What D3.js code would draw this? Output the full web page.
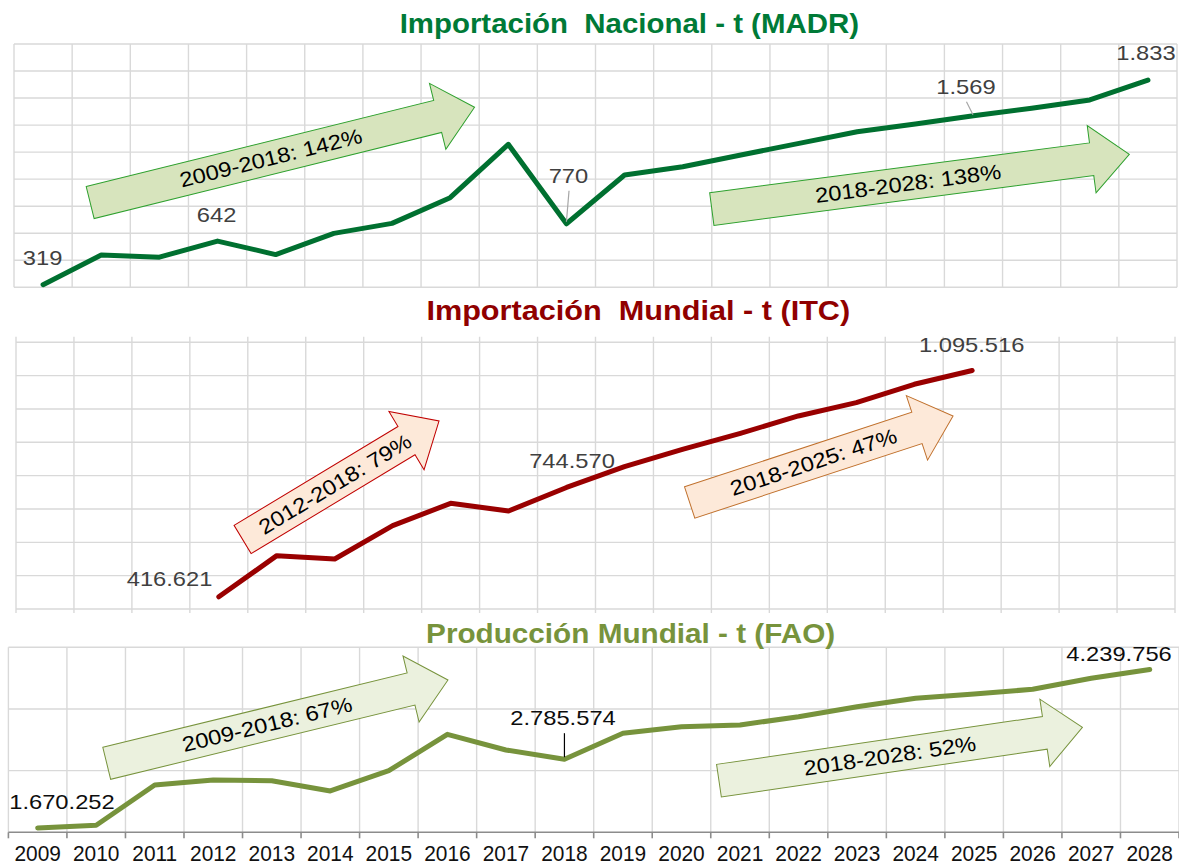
<!DOCTYPE html>
<html>
<head>
<meta charset="utf-8">
<script src="https://cdn.jsdelivr.net/npm/d3@7"></script>
<style>
  html, body { margin: 0; padding: 0; background: #ffffff; }
  svg { display: block; }
  text { font-family: "Liberation Sans", Arial, Helvetica, sans-serif; white-space: pre; }
</style>
</head>
<body>
<svg id="chart" width="1179" height="866"></svg>
<script>
// ---------------- DATA ----------------
const yearLabels = ["2009","2010","2011","2012","2013","2014","2015","2016","2017","2018",
                    "2019","2020","2021","2022","2023","2024","2025","2026","2027","2028"];

// Importación Nacional - t (MADR)
const madrYears  = ["2009","2010","2011","2012","2013","2014","2015","2016","2017","2018",
                    "2019","2020","2021","2022","2023","2024","2025","2026","2027","2028"];
const madrValues = [319, 539, 523, 642, 542, 699, 773, 963, 1358, 770,
                    1131, 1192, 1279, 1365, 1451, 1508, 1569, 1624, 1686, 1833];
const madrLabelYears = ["2009","2012","2018","2025","2028"];

// Importación Mundial - t (ITC)
const itcYears  = ["2012","2013","2014","2015","2016","2017","2018",
                   "2019","2020","2021","2022","2023","2024","2025"];
const itcValues = [416621, 540000, 530000, 630000, 697000, 674000, 744570,
                   807000, 859000, 907000, 959000, 999000, 1054000, 1095516];
const itcLabelYears = ["2012","2018","2025"];

// Producción Mundial - t (FAO)
const faoYears  = ["2009","2010","2011","2012","2013","2014","2015","2016","2017","2018",
                   "2019","2020","2021","2022","2023","2024","2025","2026","2027","2028"];
const faoValues = [1670252, 1713500, 2367000, 2448000, 2437000, 2270000, 2599000, 3189000, 2935000, 2785574,
                   3205000, 3312000, 3340000, 3475000, 3637000, 3773000, 3843000, 3919000, 4097000, 4239756];
const faoLabelYears = ["2009","2018","2028"];

// Growth annotations (tail / tip in data units: [year, value])
const madrArrows = [
  { from: [2009.81, 927],  to: [2016.42, 1632], text: "2009-2018: 142%" },
  { from: [2020.50, 879],  to: [2027.68, 1284], text: "2018-2028: 138%" }
];
const itcArrows = [
  { from: [2012.41, 588500], to: [2015.80, 944000], text: "2012-2018: 79%" },
  { from: [2020.125, 699500], to: [2024.67, 959000], text: "2018-2025: 47%" }
];
const faoArrows = [
  { from: [2010.18, 2718900], to: [2016.01, 4069700], text: "2009-2018: 67%" },
  { from: [2020.64, 2436700], to: [2026.85, 3302700], text: "2018-2028: 52%" }
];

const titles = ["Importación  Nacional - t (MADR)", "Importación  Mundial - t (ITC)", "Producción Mundial - t (FAO)"];

// ---------------- HELPERS ----------------
const fmt = d3.formatLocale({ decimal: ",", thousands: ".", grouping: [3], currency: ["", ""] }).format(",");
const svg = d3.select("#chart");

function stretchedText(g, x, y, str, o) {
  return g.append("text")
    .attr("transform", `translate(${x},${y}) scale(${o.sx || 1},1)`)
    .attr("text-anchor", o.anchor || "middle")
    .attr("font-size", o.size)
    .attr("font-weight", o.weight || "normal")
    .attr("fill", o.fill)
    .text(str);
}

function blockArrow(g, p0, p1, text, style) {
  const dx = p1[0] - p0[0], dy = p1[1] - p0[1];
  const L = Math.hypot(dx, dy), ang = Math.atan2(dy, dx) * 180 / Math.PI;
  const sw = 33, hw = 68, hl = 38;
  const pts = [[0, -sw / 2], [L - hl, -sw / 2], [L - hl, -hw / 2], [L, 0],
               [L - hl, hw / 2], [L - hl, sw / 2], [0, sw / 2]];
  const a = g.append("g").attr("transform", `translate(${p0[0]},${p0[1]}) rotate(${ang})`);
  a.append("polygon").attr("points", pts.map(p => p.join(",")).join(" "))
    .attr("fill", style.fill).attr("stroke", style.stroke).attr("stroke-width", 1);
  a.append("text")
    .attr("transform", `translate(${L * 0.47},7.5) scale(1.13,1)`)
    .attr("text-anchor", "middle").attr("font-size", 21).attr("fill", "#000")
    .text(text);
}

function panel(cfg) {
  const g = svg.append("g");
  const x = d3.scaleBand().domain(yearLabels).range(cfg.xRange).padding(0);
  const bw = x.bandwidth();
  const cx = d => x(d) + bw / 2;
  const xl = d3.scaleLinear().domain([2009, 2028]).range([cx("2009"), cx("2028")]);
  const y = d3.scaleLinear().domain(cfg.yDomain).range(cfg.yRange);

  // grid
  const gridVals = d3.range(cfg.yDomain[0], cfg.yDomain[1] + cfg.yStep / 2, cfg.yStep);
  const grid = g.append("g").attr("stroke", "#d9d9d9").attr("stroke-width", 1.4);
  grid.selectAll("line.h").data(gridVals.filter(v => !(cfg.axis && v === cfg.yDomain[0])))
    .join("line").attr("class", "h")
    .attr("x1", cfg.xRange[0]).attr("x2", cfg.xRange[1])
    .attr("y1", d => y(d)).attr("y2", d => y(d));
  const vb = yearLabels.map(d => x(d)).concat([cfg.xRange[1]]);
  grid.selectAll("line.v").data(vb).join("line").attr("class", "v")
    .attr("x1", d => d).attr("x2", d => d)
    .attr("y1", cfg.vExt[0]).attr("y2", cfg.vExt[1]);

  // axis
  if (cfg.axis) {
    const ax = g.append("g");
    ax.append("line").attr("x1", cfg.xRange[0]).attr("x2", cfg.xRange[1])
      .attr("y1", y(cfg.yDomain[0])).attr("y2", y(cfg.yDomain[0]))
      .attr("stroke", "#8c8c8c").attr("stroke-width", 1.6);
    ax.selectAll("line.t").data(vb).join("line").attr("class", "t")
      .attr("x1", d => d).attr("x2", d => d)
      .attr("y1", y(cfg.yDomain[0])).attr("y2", y(cfg.yDomain[0]) + 6)
      .attr("stroke", "#8c8c8c").attr("stroke-width", 1.6);
    ax.selectAll("text").data(yearLabels).join("text")
      .attr("transform", d => `translate(${cx(d)},861) scale(0.95,1)`)
      .attr("text-anchor", "middle").attr("font-size", 22).attr("fill", "#111")
      .text(d => d);
  }

  // title
  stretchedText(g, cfg.titlePos[0], cfg.titlePos[1], cfg.title,
    { size: 27, sx: cfg.titleSx, weight: "bold", fill: cfg.titleColor });

  // arrows
  cfg.arrows.forEach((a, i) => {
    blockArrow(g, [xl(a.from[0]), y(a.from[1])], [xl(a.to[0]), y(a.to[1])], a.text, cfg.arrowStyles[i]);
  });

  // series line
  const pts = cfg.years.map((yr, i) => [cx(yr), y(cfg.values[i])]);
  g.append("path").datum(pts)
    .attr("d", d3.line())
    .attr("fill", "none").attr("stroke", cfg.lineColor).attr("stroke-width", 5)
    .attr("stroke-linejoin", "round").attr("stroke-linecap", "round");

  // data labels
  cfg.labelYears.forEach((yr, k) => {
    const i = cfg.years.indexOf(yr);
    const px = cx(yr), py = y(cfg.values[i]);
    const o = cfg.labelOffsets[k];
    if (o.leader) {
      g.append("line").attr("x1", px + o.leader[0]).attr("y1", py + o.leader[1])
        .attr("x2", px + o.leader[2]).attr("y2", py + o.leader[3])
        .attr("stroke", cfg.leaderColor).attr("stroke-width", 1.2);
    }
    stretchedText(g, px + o.dx, py + o.dy, fmt(cfg.values[i]),
      { size: 21, sx: 1.13, anchor: o.anchor || "middle", fill: cfg.labelColor });
  });
}

// ---------------- PANELS ----------------
panel({
  xRange: [14, 1177], yDomain: [300, 2100], yRange: [287.3, 44], yStep: 200, vExt: [44, 287.3],
  years: madrYears, values: madrValues, lineColor: "#007030",
  title: titles[0], titleColor: "#007a37", titlePos: [629.3, 33.3], titleSx: 1.09,
  arrows: madrArrows,
  arrowStyles: [{ fill: "#d7e4bd", stroke: "#2ea02e" }, { fill: "#d7e4bd", stroke: "#2ea02e" }],
  labelYears: madrLabelYears, labelColor: "#404040", leaderColor: "#a6a6a6",
  labelOffsets: [
    { dx: -0.5, dy: -19.7 },
    { dx: -1, dy: -19.5 },
    { dx: 2, dy: -41, leader: [2.6, -33, 0, -2] },
    { dx: -7.5, dy: -21.5, leader: [-7, -14, -0.5, -1] },
    { dx: -2, dy: -20 }
  ]
});

panel({
  xRange: [16, 1175], yDomain: [380000, 1180000], yRange: [609, 342.3], yStep: 100000, vExt: [336.7, 613],
  years: itcYears, values: itcValues, lineColor: "#990000",
  title: titles[1], titleColor: "#900000", titlePos: [638.3, 319.5], titleSx: 1.135,
  arrows: itcArrows,
  arrowStyles: [{ fill: "#fde9d9", stroke: "#c00000" }, { fill: "#fde9d9", stroke: "#c0702c" }],
  labelYears: itcLabelYears, labelColor: "#404040", leaderColor: "#a6a6a6",
  labelOffsets: [
    { dx: -6.4, dy: -10.8, anchor: "end" },
    { dx: 5.5, dy: -19.2 },
    { dx: -0.5, dy: -18.8 }
  ]
});

panel({
  xRange: [8.4, 1179], yDomain: [1600000, 4600000], yRange: [832.3, 647.3], yStep: 1000000, vExt: [647.3, 832.3],
  axis: true,
  years: faoYears, values: faoValues, lineColor: "#77933c",
  title: titles[2], titleColor: "#77933c", titlePos: [630.6, 643.3], titleSx: 1.1,
  arrows: faoArrows,
  arrowStyles: [{ fill: "#ebf1de", stroke: "#77933c" }, { fill: "#ebf1de", stroke: "#77933c" }],
  labelYears: faoLabelYears, labelColor: "#0d0d0d", leaderColor: "#000000",
  labelOffsets: [
    { dx: 24.3, dy: -18.7 },
    { dx: -1.4, dy: -34.2, leader: [0, -26, 0, -2] },
    { dx: -30.7, dy: -8.8 }
  ]
});
</script>
</body>
</html>
